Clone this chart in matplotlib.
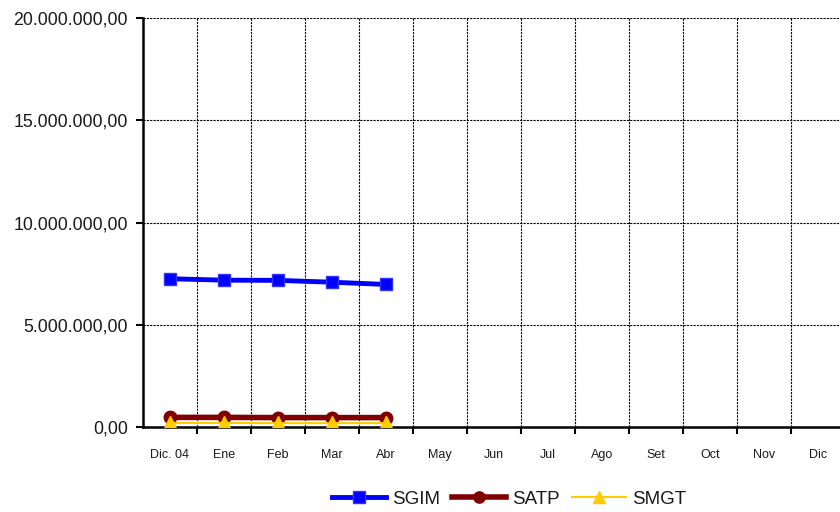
import matplotlib.pyplot as plt
import matplotlib
from matplotlib.ticker import FuncFormatter, FixedLocator

matplotlib.rcParams['font.family'] = ['Liberation Sans', 'DejaVu Sans']
matplotlib.rcParams['text.color'] = '#1a1a1a'

months = ['Dic. 04', 'Ene', 'Feb', 'Mar', 'Abr', 'May', 'Jun', 'Jul', 'Ago',
          'Set', 'Oct', 'Nov', 'Dic']
sgim = [7250000, 7180000, 7170000, 7080000, 6970000]
satp = [470000, 470000, 460000, 460000, 460000]
smgt = [200000, 200000, 190000, 190000, 190000]
yticks = [0, 5000000, 10000000, 15000000, 20000000]


def fmt(v, pos):
    s = '{:,.2f}'.format(v)
    return s.replace(',', 'X').replace('.', ',').replace('X', '.')


fig = plt.figure(figsize=(8.4, 5.12), dpi=100)
ax = fig.add_axes([143 / 840, 85 / 512, 697 / 840, 409 / 512])

xs = list(range(len(sgim)))
ax.plot(xs, sgim, color='#0000FF', lw=3.5, marker='s', ms=9,
        mfc='#0000FF', mec='#3333FF', label='SGIM', zorder=5)
ax.plot(xs, satp, color='#800000', lw=4, marker='o', ms=9,
        label='SATP', zorder=4)
ax.plot(xs, smgt, color='#FFCC00', lw=1.5, marker='^', ms=10,
        label='SMGT', zorder=6)

ax.set_xlim(-0.5, 697 / 54 - 0.5)
ax.set_ylim(0, 20000000)

ax.set_xticks(range(len(months)))
ax.set_xticklabels(months, fontsize=9, color='#1a1a1a')
ax.tick_params(axis='x', which='major', length=0, pad=16)
ax.xaxis.set_minor_locator(FixedLocator([i + 0.5 for i in range(len(months))]))
ax.tick_params(axis='x', which='minor', length=5, width=1.5, direction='out')

ax.set_yticks(yticks)
ax.yaxis.set_major_formatter(FuncFormatter(fmt))
ax.tick_params(axis='y', length=5, width=1.5, direction='out', labelsize=12.8,
               labelcolor='#1a1a1a', pad=6)

ax.grid(axis='y', which='major', color='black', ls=(0, (2, 1)), lw=0.8)
ax.grid(axis='x', which='minor', color='black', ls=(0, (2, 1)), lw=0.8)

for s in ['top', 'right']:
    ax.spines[s].set_visible(False)
ax.spines['left'].set_linewidth(1.8)
ax.spines['bottom'].set_linewidth(1.8)

fig.legend(loc='center', bbox_to_anchor=(509 / 840, 1 - 499 / 512), ncol=3,
           frameon=False, fontsize=13.5, handlelength=2.9, columnspacing=0.64,
           handletextpad=0.32, markerscale=0.9)

plt.savefig('out.png', dpi=100)
